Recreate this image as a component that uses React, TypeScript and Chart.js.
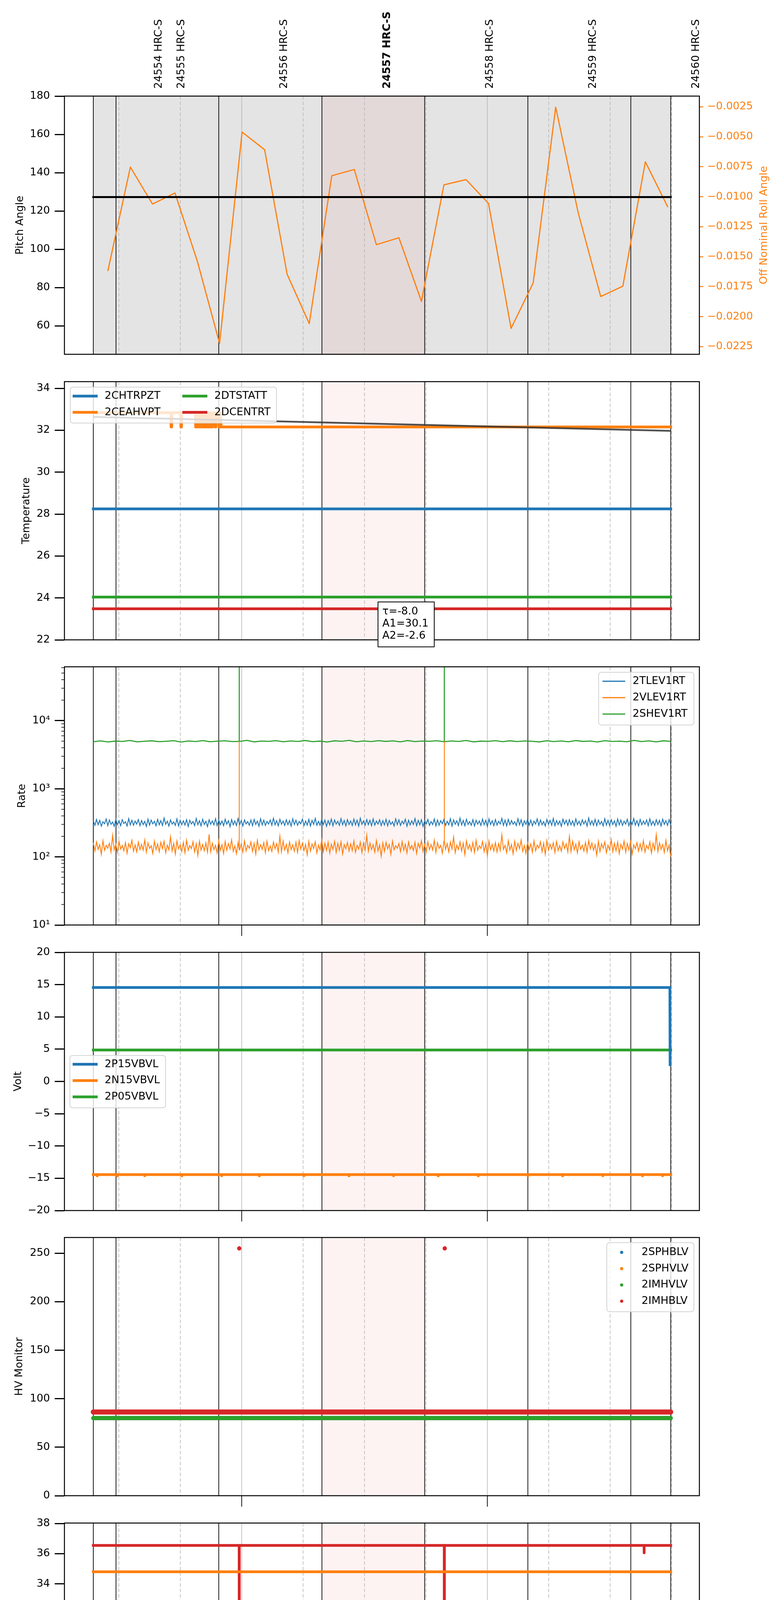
import { useEffect, useRef } from 'react';
import Chart from 'chart.js/auto';

const FAMILY = "'DejaVu Sans', sans-serif";
Chart.defaults.font.family = FAMILY;
Chart.defaults.color = '#000';

const BLUE = '#1f77b4';
const ORANGE = '#ff7f0e';
const GREEN = '#2ca02c';
const RED = '#d62728';

const PAGE_W = 2000;
const PAGE_H = 5400;
const PLOT_LEFT = 165;
const PLOT_RIGHT = 1791;
const PANEL_H = 661;
const FONT = 27;

// x axis: minutes after 00:00 UT on 2021-09-09
const X_MIN = 76.7;
const X_MAX = 231.8;
const quarterMarks = [90, 105, 135, 150, 165, 195, 210, 225];
const quarterLabels = ['30', '45', '15', '30', '45', '15', '30', '45'];
const hourMarks = [120, 180];
const hourLabels = ['02h', '03h'];
const dateLabel = '2021-09-09 (252)';

// observations
const obsIds = ['24554', '24555', '24556', '24557', '24558', '24559', '24560'];
const obsStart = [83.75, 89.3, 114.4, 139.6, 164.7, 189.9, 215.05];
const obsStop = 224.8;
const currentObs = '24557';
const instrument = 'HRC-S';
const seriesStart = 83.75;
const seriesStop = 224.8;

// panel 1: pitch / roll
const pitchTimes = [83.75, 224.8];
const pitchValues = [127.3, 127.3];
const pitchTicks = [60, 80, 100, 120, 140, 160, 180];
const rollTimes = [87.3, 92.8, 98.2, 103.7, 109.2, 114.6, 120.1, 125.6, 131.1, 136.5, 142.0, 147.5, 152.9,
  158.4, 163.9, 169.4, 174.8, 180.3, 185.8, 191.2, 196.7, 202.2, 207.7, 213.1, 218.6, 224.1];
const rollValues = [-0.0162, -0.00753, -0.01061, -0.00969, -0.01542, -0.02223, -0.00461, -0.00608, -0.01647,
  -0.02058, -0.00825, -0.00773, -0.014, -0.01342, -0.01873, -0.00901, -0.00857, -0.01057, -0.02098, -0.01719,
  -0.00254, -0.01134, -0.01832, -0.01746, -0.00709, -0.01087];
const rollTicks = [-0.0225, -0.02, -0.0175, -0.015, -0.0125, -0.01, -0.0075, -0.005, -0.0025];

// panel 2: temperatures
const chtrpzt = 28.25;
const dtstatt = 24.04;
const dcentrt = 23.48;
const ceahTimes = [83.75, 102.7, 102.75, 102.9, 102.95, 105.1, 105.15, 105.3, 105.35, 108.7, 108.75, 109.2, 109.25,
  109.5, 109.55, 110.1, 110.15, 110.4, 110.45, 111.0, 111.05, 111.3, 111.35, 111.9, 111.95, 112.2, 112.25, 112.8,
  112.85, 113.4, 113.45, 113.7, 113.75, 114.4, 114.45, 114.7, 114.75, 115.0, 224.8];
const ceahValues = [32.84, 32.84, 32.16, 32.16, 32.84, 32.84, 32.16, 32.16, 32.84, 32.84, 32.16, 32.16, 32.84,
  32.84, 32.16, 32.16, 32.84, 32.84, 32.16, 32.16, 32.84, 32.84, 32.16, 32.16, 32.84, 32.84, 32.16, 32.16,
  32.84, 32.84, 32.16, 32.16, 32.84, 32.84, 32.16, 32.16, 32.84, 32.16, 32.16];
const fitTimes = [83.75, 224.8];
const fitValues = [32.64, 31.97];
const fitTau = -8.0;
const fitA1 = 30.1;
const fitA2 = -2.6;
const tempTicks = [22, 24, 26, 28, 30, 32, 34];

// panel 3: rates (samples spread evenly between seriesStart and seriesStop)
const tlevValues = [
  338, 291, 355, 297, 344, 283, 329, 306, 361, 288, 349, 300, 325, 281, 357, 295, 340, 286, 352, 309,
  328, 284, 365, 294, 345, 291, 336, 303, 354, 287, 343, 298, 332, 279, 359, 292, 347, 305, 334, 286,
  356, 296, 341, 289, 372, 301, 335, 283, 350, 303, 326, 290, 362, 284, 344, 297, 339, 293, 352, 280,
  345, 304, 331, 288, 367, 297, 340, 285, 357, 299, 333, 278, 351, 301, 338, 295, 364, 288, 345, 296,
  336, 287, 358, 302, 341, 277, 353, 296, 337, 289, 366, 298, 342, 285, 350, 304, 330, 291, 348, 287,
  355, 299, 336, 282, 363, 294, 346, 290, 332, 303, 348, 292, 369, 296, 341, 286, 357, 301, 335, 289,
  351, 297, 342, 283, 363, 298, 346, 291, 332, 306, 359, 288, 337, 293, 356, 284, 344, 300, 367, 291,
  333, 290, 358, 297, 347, 281, 340, 295, 360, 286, 349, 302, 334, 290, 365, 296, 343, 285, 353, 298,
  338, 289, 360, 294, 346, 283, 370, 301, 338, 291, 354, 297, 345, 287, 361, 292, 337, 303, 351, 288,
  340, 293, 357, 286, 343, 300, 328, 284, 362, 297, 350, 289, 335, 305, 358, 282, 346, 294, 339, 299,
  366, 287, 344, 296, 352, 280, 337, 303, 355, 290, 331, 298, 360, 285, 348, 292, 341, 306, 356, 289,
  334, 295, 363, 283, 349, 301, 339, 288, 371, 294, 343, 286, 357, 299, 330, 291, 352, 284, 345, 302,
  337, 289, 359, 296, 344, 279, 361, 298, 340, 287, 354, 293, 333, 304, 368, 290, 347, 285, 356, 297,
  342, 301, 328, 288, 364, 295, 351, 283, 338, 300, 357, 291, 346, 286, 335, 303, 362, 289, 349, 296,
  330, 284, 355, 299, 343, 292, 367, 287, 341, 298, 336, 281, 358, 302, 345, 290, 353, 295, 339, 286,
  361, 297, 334, 289, 350, 304, 342, 283, 373, 296, 338, 291, 356, 287, 347, 300, 332, 285, 364, 293,
  344, 288, 352, 298, 339, 282, 360, 295, 348, 290, 335, 303, 357, 286, 343, 299, 366, 292, 340, 284,
  355, 296, 337, 301, 349, 287, 362, 293, 333, 289, 351, 298, 344, 284, 358, 300, 341, 290, 353, 295];
const vlevValues = [
  160, 122, 166, 129, 151, 109, 173, 125, 148, 134, 158, 118, 207, 127, 154, 116, 168, 130, 147, 123,
  162, 113, 156, 136, 175, 121, 150, 118, 165, 128, 153, 126, 177, 117, 160, 133, 146, 112, 171, 128,
  155, 119, 164, 132, 170, 115, 149, 127, 198, 122, 158, 110, 172, 131, 150, 120, 163, 115, 176, 125,
  147, 132, 167, 118, 156, 105, 170, 126, 152, 123, 161, 117, 214, 119, 159, 128, 148, 114, 172, 124,
  151, 112, 169, 125, 157, 131, 178, 121, 145, 111, 163, 127, 154, 118, 172, 122, 148, 134, 166, 120,
  158, 110, 175, 127, 151, 129, 162, 115, 170, 123, 145, 120, 165, 132, 157, 117, 202, 119, 171, 126,
  153, 115, 166, 128, 150, 121, 164, 116, 173, 130, 159, 124, 152, 107, 169, 121, 155, 133, 167, 114,
  149, 127, 178, 118, 158, 124, 164, 113, 154, 129, 170, 116, 158, 125, 167, 110, 151, 131, 163, 122,
  156, 123, 172, 117, 148, 130, 165, 115, 160, 126, 209, 121, 160, 128, 151, 117, 174, 122, 150, 102,
  161, 120, 164, 131, 152, 109, 171, 127, 146, 134, 157, 119, 168, 125, 153, 114, 166, 130, 147, 124,
  164, 112, 158, 135, 173, 120, 151, 118, 167, 128, 152, 126, 176, 116, 162, 133, 148, 113, 170, 129,
  157, 118, 165, 131, 196, 115, 149, 128, 166, 122, 159, 108, 172, 130, 152, 121, 163, 116, 175, 125,
  146, 133, 168, 119, 155, 104, 171, 127, 153, 122, 162, 118, 157, 124, 211, 129, 148, 115, 173, 126,
  152, 111, 170, 124, 158, 132, 177, 120, 147, 112, 164, 128, 155, 117, 172, 123, 149, 135, 167, 119,
  159, 109, 174, 126, 153, 130, 161, 116, 169, 124, 147, 121, 166, 133, 156, 118, 200, 120, 170, 127,
  154, 114, 167, 129, 149, 122, 163, 117, 174, 131, 160, 125, 151, 106, 170, 120, 156, 134, 166, 115,
  148, 128, 179, 119, 159, 123, 165, 112, 153, 130, 171, 117, 157, 126, 168, 109, 150, 132, 162, 121,
  155, 124, 173, 118, 147, 131, 166, 114, 159, 127, 212, 120, 161, 129, 152, 116, 175, 123, 149, 101];
const shevValues = [
  4900, 5050, 4870, 5010, 4950, 5120, 4890, 4980, 5060, 4920, 4990, 5080, 4860, 5030, 4940, 5100, 4910, 5000, 5070, 4930,
  4960, 5140, 4880, 5020, 4970, 5090, 4900, 5040, 4950, 5110, 4920, 5010, 4870, 5060, 4990, 5130, 4910, 5030, 4940, 5080,
  4960, 5050, 4890, 5100, 4930, 5020, 4980, 5070, 4900, 5040, 4950, 5120, 4880, 5010, 4970, 5090, 4920, 5060, 4940, 5030,
  4990, 4880, 5070, 4930, 5040, 4900, 5110, 4960, 5020, 4870, 5080, 4950, 5000, 4910, 5130, 4940, 5050, 4890, 5060, 4970];
const rateSpikeTimes = [119.4, 169.5];
const vlevSpikeValues = [5000, 5000];
const shevSpikeValues = [100000, 100000];
const rateTicks = [10, 100, 1000, 10000];
const rateTickLabels = ['10\u00b9', '10\u00b2', '10\u00b3', '10\u2074'];

// panel 4: voltages
const p15Times = [83.75, 224.6, 224.65];
const p15Values = [14.55, 14.55, 2.6];
const n15Base = -14.43;
const n15DipTimes = [84.7, 89.6, 96.3, 105.4, 115.1, 124.3, 135.2, 146.2, 157.1, 168.0, 177.8, 189.9, 198.4, 208.2, 217.9, 222.8];
const n15DipValues = [-14.62, -14.62, -14.6, -14.62, -14.6, -14.62, -14.6, -14.62, -14.6, -14.62, -14.62, -14.6, -14.62, -14.6, -14.62, -14.6];
const p05Base = 4.87;
const voltTicks = [-20, -15, -10, -5, 0, 5, 10, 15, 20];

// panel 5: HV monitor
const imhvlvBase = 80.0;
const imhblvBase = 86.3;
const imhblvOutlierTimes = [119.4, 169.6];
const imhblvOutlierValues = [255, 255];
const hvTicks = [0, 50, 100, 150, 200, 250];

// panel 6: detector temps
const spinatmBase = 22.43;
const spinatmSpikeTimes = [153.45, 171.2, 195.8];
const spinatmSpikeValues = [21.63, 21.63, 21.63];
const sphvatmBase = 34.8;
const iminatmBase = 23.14;
const iminatmSpikeTimes = [111.7];
const iminatmSpikeValues = [23.94];
const imhvatmBase = 36.55;
const imhvatmSpikeTimes = [119.4, 169.5, 218.3];
const imhvatmSpikeValues = [0, 0, 36.06];
const detTicks = [22, 24, 26, 28, 30, 32, 34, 36, 38];

// panel 7: FEA temps
const fhtrmztBase = 26.4;
const fradpytBase = 21.81;
const fepratmBase = 27.76;
const fepratmSpikeTimes = [119.4, 169.5];
const fepratmSpikeValues = [0, 0];
const fe00Base = 25.29;
const fe00SpikeTimes = [87.05, 103.8, 107.0, 108.1, 110.15, 113.1, 117.7, 119.4, 120.6, 132.0, 140.2, 165.0, 168.2,
  168.5, 169.5, 175.1, 178.3, 179.5, 189.6, 199.4, 213.9, 215.5, 218.5, 221.0];
const fe00SpikeValues = [25.67, 24.58, 26.0, 25.67, 25.67, 26.0, 25.67, 0, 26.0, 25.67, 25.67, 26.0, 26.0,
  26.0, 0, 24.25, 26.0, 24.92, 25.67, 24.58, 24.25, 25.67, 24.92, 24.25];
const feaTicks = [21, 22, 23, 24, 25, 26, 27, 28, 29];

const pts = (t: number[], v: number[]) => t.map((x, i) => ({ x, y: v[i] }));
const flat = (v: number) => [{ x: seriesStart, y: v }, { x: seriesStop, y: v }];

function withSpikes(base: number, times: number[], values: number[]) {
  const out = [{ x: seriesStart, y: base }];
  times.forEach((t, i) => {
    out.push({ x: t - 0.02, y: base }, { x: t, y: values[i] }, { x: t + 0.02, y: base });
  });
  out.push({ x: seriesStop, y: base });
  return out;
}

function sampled(values: number[], spikeTimes: number[] = [], spikeValues: number[] = []) {
  const step = (seriesStop - seriesStart) / (values.length - 1);
  const out = values.map((y, i) => ({ x: seriesStart + i * step, y }));
  spikeTimes.forEach((t, i) => {
    const j = Math.round((t - seriesStart) / step);
    const b = values[Math.min(j, values.length - 1)];
    out.push({ x: t - 0.01, y: b }, { x: t, y: spikeValues[i] }, { x: t + 0.01, y: b });
  });
  return out.sort((a, b) => a.x - b.x);
}

const line = (label: string, color: string, data: any[], width: number, extra: any = {}) => ({
  type: 'line',
  label,
  data,
  borderColor: color,
  backgroundColor: color,
  borderWidth: width,
  pointRadius: 0,
  tension: 0,
  fill: false,
  borderJoinStyle: 'round',
  borderCapStyle: 'square',
  ...extra,
});

const minus = (v: number, digits = 0) => (v < 0 ? '\u2212' : '') + Math.abs(v).toFixed(digits);

function leftAxis(min: number, max: number, ticks: number[], fmt: (v: number, i: number) => string, type = 'linear') {
  return {
    type,
    position: 'left',
    min,
    max,
    afterFit: (s: any) => { s.width = PLOT_LEFT; },
    afterBuildTicks: (s: any) => { s.ticks = ticks.map((value) => ({ value })); },
    ticks: { font: { size: FONT }, color: '#000', padding: 12, autoSkip: false, maxRotation: 0, callback: (v: number, i: number) => fmt(v, i) },
    grid: { drawOnChartArea: false, drawTicks: true, tickLength: 25, tickWidth: 3, tickColor: '#000' },
    border: { display: false },
  };
}

function px(chart: any, t: number) {
  return chart.scales.x.getPixelForValue(t);
}

function drawLegend(ctx: any, chart: any, L: any, canvasTop: number) {
  const items = chart.data.datasets.filter((d: any) => d.label);
  const bx = L.x;
  const by = L.y - canvasTop;
  ctx.save();
  ctx.beginPath();
  ctx.roundRect(bx, by, L.w, L.h, 7);
  ctx.fillStyle = 'rgba(255,255,255,0.8)';
  ctx.fill();
  ctx.lineWidth = 2;
  ctx.strokeStyle = '#d4d4d4';
  ctx.stroke();
  ctx.font = `${FONT}px ${FAMILY}`;
  ctx.textBaseline = 'middle';
  ctx.textAlign = 'left';
  items.forEach((d: any, i: number) => {
    const col = Math.floor(i / L.rows);
    const row = i % L.rows;
    const x0 = bx + col * (L.colPitch || 0);
    const yy = by + L.firstRow + row * L.rowPitch;
    if (L.dot) {
      ctx.fillStyle = d.borderColor;
      ctx.beginPath();
      ctx.arc(x0 + L.handleX, yy, L.dot, 0, Math.PI * 2);
      ctx.fill();
    } else {
      ctx.strokeStyle = d.borderColor;
      ctx.lineWidth = L.lw;
      ctx.lineCap = 'butt';
      ctx.beginPath();
      ctx.moveTo(x0 + L.handleX, yy);
      ctx.lineTo(x0 + L.handleX + L.handleLen, yy);
      ctx.stroke();
    }
    ctx.fillStyle = '#000';
    ctx.fillText(d.label, x0 + L.textX, yy);
  });
  ctx.restore();
}

function rotatedText(ctx: any, text: string, x: number, y: number, font: string, color: string, align = 'center', baseline = 'alphabetic') {
  ctx.save();
  ctx.translate(x, y);
  ctx.rotate(-Math.PI / 2);
  ctx.font = font;
  ctx.fillStyle = color;
  ctx.textAlign = align;
  ctx.textBaseline = baseline;
  ctx.fillText(text, 0, 0);
  ctx.restore();
}

function decorations(spec: any, canvasTop: number) {
  return {
    id: 'decorations',
    beforeDatasetsDraw(chart: any) {
      const { ctx, chartArea: a } = chart;
      const h = a.bottom - a.top;
      ctx.save();
      ctx.beginPath();
      ctx.rect(a.left, a.top, a.right - a.left, h);
      ctx.clip();
      if (spec.shade) {
        ctx.fillStyle = '#e4e4e4';
        ctx.fillRect(px(chart, obsStart[0]), a.top, px(chart, obsStop) - px(chart, obsStart[0]), h);
      }
      const k = obsIds.indexOf(currentObs);
      const kEnd = k + 1 < obsStart.length ? obsStart[k + 1] : obsStop;
      ctx.fillStyle = 'rgba(214,39,40,0.055)';
      ctx.fillRect(px(chart, obsStart[k]), a.top, px(chart, kEnd) - px(chart, obsStart[k]), h);

      ctx.strokeStyle = '#b4b4b4';
      ctx.lineWidth = 1.5;
      ctx.setLineDash([9, 5]);
      quarterMarks.forEach((t) => {
        const x = px(chart, t);
        ctx.beginPath();
        ctx.moveTo(x, a.top);
        ctx.lineTo(x, a.bottom);
        ctx.stroke();
      });
      ctx.setLineDash([]);
      hourMarks.forEach((t) => {
        const x = px(chart, t);
        ctx.beginPath();
        ctx.moveTo(x, a.top);
        ctx.lineTo(x, a.bottom);
        ctx.stroke();
      });
      ctx.strokeStyle = '#000';
      ctx.lineWidth = 1.8;
      [...obsStart, obsStop].forEach((t) => {
        const x = px(chart, t);
        ctx.beginPath();
        ctx.moveTo(x, a.top);
        ctx.lineTo(x, a.bottom);
        ctx.stroke();
      });
      ctx.restore();
    },
    afterDatasetsDraw(chart: any) {
      const { ctx, chartArea: a } = chart;
      if (spec.legend) drawLegend(ctx, chart, spec.legend, canvasTop);
      ctx.save();
      ctx.strokeStyle = '#000';
      ctx.lineWidth = 2.5;
      ctx.strokeRect(a.left, a.top, a.right - a.left, a.bottom - a.top);
      if (spec.hourTicks) {
        ctx.lineWidth = 1.8;
        hourMarks.forEach((t) => {
          const x = px(chart, t);
          ctx.beginPath();
          ctx.moveTo(x, a.bottom);
          ctx.lineTo(x, a.bottom + 28);
          ctx.stroke();
        });
      }
      ctx.restore();
      rotatedText(ctx, spec.title, spec.titleX, (a.top + a.bottom) / 2, `${FONT}px ${FAMILY}`, '#000');
      if (spec.extra) spec.extra(ctx, chart, canvasTop);
    },
  };
}

function pitchExtras(ctx: any, chart: any, canvasTop: number) {
  const a = chart.chartArea;
  obsIds.forEach((id, i) => {
    const x = px(chart, obsStart[i] + 16);
    const weight = id === currentObs ? 'bold ' : '';
    rotatedText(ctx, `${id} ${instrument}`, x, 227 - canvasTop, `${weight}${FONT}px ${FAMILY}`, '#000', 'left', 'middle');
  });
  rotatedText(ctx, 'Off Nominal Roll Angle', 1964, (a.top + a.bottom) / 2, `${FONT}px ${FAMILY}`, ORANGE);
}

function fitBox(ctx: any, chart: any, canvasTop: number) {
  const lines = [`\u03c4=${fitTau.toFixed(1)}`, `A1=${fitA1.toFixed(1)}`, `A2=${fitA2.toFixed(1)}`];
  const bx = 968;
  const by = 1541 - canvasTop;
  ctx.save();
  ctx.fillStyle = '#fff';
  ctx.fillRect(bx, by, 144, 115);
  ctx.strokeStyle = '#000';
  ctx.lineWidth = 2;
  ctx.strokeRect(bx, by, 144, 115);
  ctx.fillStyle = '#000';
  ctx.font = `${FONT}px ${FAMILY}`;
  ctx.textAlign = 'left';
  ctx.textBaseline = 'middle';
  lines.forEach((s, i) => ctx.fillText(s, bx + 11, by + 25 + i * 31));
  ctx.restore();
}

function logMinorTicks(ctx: any, chart: any) {
  const a = chart.chartArea;
  const y = chart.scales.y;
  ctx.save();
  ctx.strokeStyle = '#000';
  ctx.lineWidth = 1.5;
  for (let d = 10; d <= 10000; d *= 10) {
    for (let m = 2; m <= 9; m++) {
      const v = m * d;
      if (v > y.max) continue;
      const yy = y.getPixelForValue(v);
      ctx.beginPath();
      ctx.moveTo(a.left - 8, yy);
      ctx.lineTo(a.left, yy);
      ctx.stroke();
    }
  }
  ctx.restore();
}

function timeAxis(ctx: any, chart: any, canvasTop: number) {
  ctx.save();
  ctx.fillStyle = '#000';
  ctx.textAlign = 'center';
  ctx.textBaseline = 'middle';
  ctx.font = `18px ${FAMILY}`;
  quarterMarks.forEach((t, i) => ctx.fillText(quarterLabels[i], px(chart, t), 5305 - canvasTop));
  ctx.font = `${FONT}px ${FAMILY}`;
  hourMarks.forEach((t, i) => ctx.fillText(hourLabels[i], px(chart, t), 5341 - canvasTop));
  ctx.font = `34px ${FAMILY}`;
  const a = chart.chartArea;
  ctx.fillText(dateLabel, (a.left + a.right) / 2, 5379 - canvasTop);
  ctx.restore();
}

const intLabel = (v: number) => minus(v);

const panels = [
  {
    top: 246, padTop: 246, padBottom: 40, title: 'Pitch Angle', titleX: 59, shade: true, hourTicks: false,
    extra: pitchExtras,
    build: () => ({
      datasets: [
        line('Pitch', '#000', pts(pitchTimes, pitchValues), 5, { yAxisID: 'y' }),
        line('Roll', ORANGE, pts(rollTimes, rollValues), 3, { yAxisID: 'y2', borderCapStyle: 'butt' }),
      ],
      scales: {
        y: leftAxis(45.2, 180, pitchTicks, intLabel),
        y2: {
          type: 'linear',
          position: 'right',
          min: -0.02314,
          max: -0.00161,
          afterFit: (s: any) => { s.width = PAGE_W - PLOT_RIGHT; },
          afterBuildTicks: (s: any) => { s.ticks = rollTicks.map((value) => ({ value })); },
          ticks: { color: ORANGE, font: { size: FONT }, padding: 10, autoSkip: false, callback: (v: number) => minus(v, 4) },
          grid: { drawOnChartArea: false, tickLength: 10, tickWidth: 2.5, tickColor: ORANGE },
          border: { display: false },
        },
      },
    }),
  },
  {
    top: 977, padTop: 40, padBottom: 50, title: 'Temperature', titleX: 75, hourTicks: false,
    legend: { x: 180, y: 991, w: 528, h: 92, rows: 2, colPitch: 281, firstRow: 23, rowPitch: 41.5, handleX: 6, handleLen: 64, textX: 88, lw: 7 },
    extra: fitBox,
    build: () => ({
      datasets: [
        line('', 'rgba(50,50,50,0.85)', pts(fitTimes, fitValues), 4.5, { borderCapStyle: 'butt' }),
        line('2CHTRPZT', BLUE, flat(chtrpzt), 7),
        line('2CEAHVPT', ORANGE, pts(ceahTimes, ceahValues), 7),
        line('2DTSTATT', GREEN, flat(dtstatt), 7),
        line('2DCENTRT', RED, flat(dcentrt), 7),
      ],
      scales: { y: leftAxis(22, 34.32, tempTicks, intLabel) },
    }),
  },
  {
    top: 1707, padTop: 40, padBottom: 50, title: 'Rate', titleX: 64, hourTicks: true,
    legend: { x: 1533, y: 1721, w: 244, h: 135, rows: 3, firstRow: 23, rowPitch: 42, handleX: 10, handleLen: 58, textX: 87, lw: 3 },
    extra: (ctx: any, chart: any) => logMinorTicks(ctx, chart),
    build: () => ({
      datasets: [
        line('2TLEV1RT', BLUE, sampled(tlevValues), 2.2, { borderCapStyle: 'butt', borderJoinStyle: 'miter' }),
        line('2VLEV1RT', ORANGE, sampled(vlevValues, rateSpikeTimes, vlevSpikeValues), 2.2, { borderCapStyle: 'butt', borderJoinStyle: 'miter' }),
        line('2SHEV1RT', GREEN, sampled(shevValues, rateSpikeTimes, shevSpikeValues), 2.8, { borderCapStyle: 'butt' }),
      ],
      scales: { y: leftAxis(10, 61800, rateTicks, (_v: number, i: number) => rateTickLabels[i], 'logarithmic') },
    }),
  },
  {
    top: 2438, padTop: 40, padBottom: 50, title: 'Volt', titleX: 54, hourTicks: true,
    legend: { x: 179, y: 2702, w: 245, h: 134, rows: 3, firstRow: 22.5, rowPitch: 41.7, handleX: 7, handleLen: 64, textX: 89, lw: 7 },
    build: () => ({
      datasets: [
        line('2P15VBVL', BLUE, pts(p15Times, p15Values), 7),
        line('2N15VBVL', ORANGE, withSpikes(n15Base, n15DipTimes, n15DipValues), 7),
        line('2P05VBVL', GREEN, flat(p05Base), 7),
      ],
      scales: { y: leftAxis(-20, 20, voltTicks, intLabel) },
    }),
  },
  {
    top: 3168, padTop: 40, padBottom: 50, title: 'HV Monitor', titleX: 57, hourTicks: true,
    legend: { x: 1554, y: 3181, w: 223, h: 177, rows: 4, firstRow: 25, rowPitch: 41.7, handleX: 38, textX: 89, dot: 4 },
    build: () => ({
      datasets: [
        line('2SPHBLV', BLUE, [], 12),
        line('2SPHVLV', ORANGE, [], 12),
        line('2IMHVLV', GREEN, flat(imhvlvBase), 11, { borderCapStyle: 'round' }),
        line('2IMHBLV', RED, flat(imhblvBase), 13, { borderCapStyle: 'round' }),
        line('', RED, pts(imhblvOutlierTimes, imhblvOutlierValues), 0, { showLine: false, pointRadius: 5.5, pointBorderWidth: 0 }),
      ],
      scales: { y: leftAxis(0, 266.2, hvTicks, intLabel) },
    }),
  },
  {
    top: 3899, padTop: 40, padBottom: 50, title: 'Detector Temp', titleX: 77, hourTicks: true,
    legend: { x: 1531, y: 4142, w: 246, h: 177, rows: 4, firstRow: 22.5, rowPitch: 42, handleX: 6, handleLen: 61, textX: 86, lw: 7 },
    build: () => ({
      datasets: [
        line('2SPINATM', BLUE, withSpikes(spinatmBase, spinatmSpikeTimes, spinatmSpikeValues), 7),
        line('2SPHVATM', ORANGE, flat(sphvatmBase), 7),
        line('2IMINATM', GREEN, withSpikes(iminatmBase, iminatmSpikeTimes, iminatmSpikeValues), 7),
        line('2IMHVATM', RED, withSpikes(imhvatmBase, imhvatmSpikeTimes, imhvatmSpikeValues), 7),
      ],
      scales: { y: leftAxis(20.93, 38.03, detTicks, intLabel) },
    }),
  },
  {
    top: 4629, padTop: 40, padBottom: 111, title: 'FEA Temp', titleX: 75, hourTicks: true,
    legend: { x: 179, y: 5101, w: 251, h: 177, rows: 4, firstRow: 23, rowPitch: 41.7, handleX: 7, handleLen: 64, textX: 89, lw: 7 },
    extra: timeAxis,
    build: () => ({
      datasets: [
        line('2FHTRMZT', BLUE, flat(fhtrmztBase), 7),
        line('2FRADPYT', ORANGE, flat(fradpytBase), 7),
        line('2FEPRATM', GREEN, withSpikes(fepratmBase, fepratmSpikeTimes, fepratmSpikeValues), 7),
        line('2FE00ATM', RED, withSpikes(fe00Base, fe00SpikeTimes, fe00SpikeValues), 7),
      ],
      scales: { y: leftAxis(20.31, 29.27, feaTicks, intLabel) },
    }),
  },
];

function Panel({ spec }: { spec: any }) {
  const canvasRef = useRef<HTMLCanvasElement>(null);
  const canvasTop = spec.top - spec.padTop;
  const height = spec.padTop + PANEL_H + spec.padBottom;

  useEffect(() => {
    const canvas = canvasRef.current;
    if (!canvas) return;
    const { datasets, scales } = spec.build();
    const chart = new Chart(canvas, {
      type: 'line',
      data: { datasets },
      options: {
        responsive: false,
        animation: false,
        devicePixelRatio: 1,
        events: [],
        layout: {
          padding: { top: spec.padTop, bottom: spec.padBottom, left: 0, right: scales.y2 ? 0 : PAGE_W - PLOT_RIGHT },
        },
        plugins: { legend: { display: false }, tooltip: { enabled: false } },
        scales: {
          x: { type: 'linear', min: X_MIN, max: X_MAX, display: false },
          ...scales,
        },
      },
      plugins: [decorations(spec, canvasTop)],
    } as any);
    return () => chart.destroy();
  }, [spec, canvasTop]);

  return (
    <canvas
      ref={canvasRef}
      width={PAGE_W}
      height={height}
      style={{ position: 'absolute', left: 0, top: canvasTop, width: PAGE_W, height }}
    />
  );
}

export default function App() {
  useEffect(() => {
    document.body.style.margin = '0';
  }, []);
  return (
    <div style={{ position: 'relative', width: PAGE_W, height: PAGE_H, background: '#fff', overflow: 'hidden' }}>
      {panels.map((p, i) => (
        <Panel key={i} spec={p} />
      ))}
    </div>
  );
}
